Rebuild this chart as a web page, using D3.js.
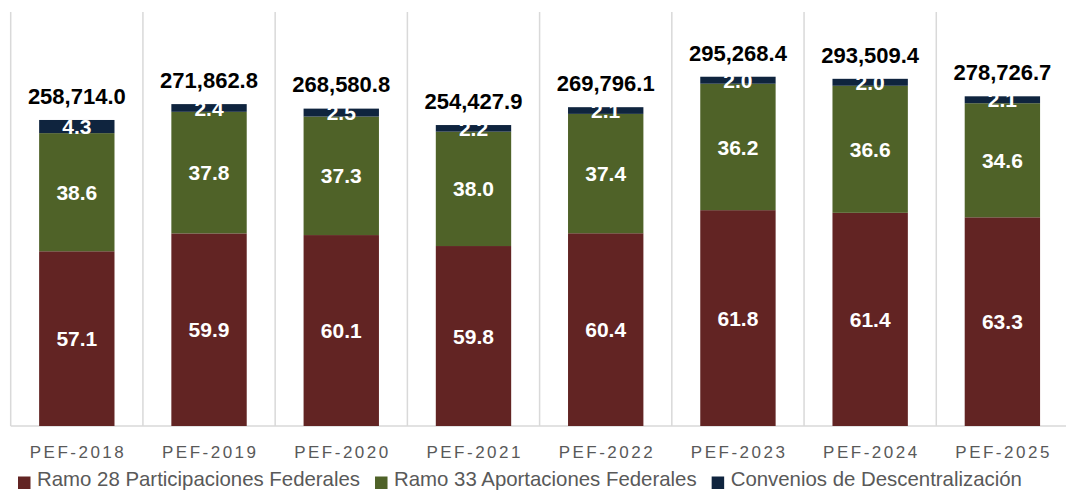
<!DOCTYPE html>
<html>
<head>
<meta charset="utf-8">
<script src="https://cdn.jsdelivr.net/npm/d3@7"></script>
<style>
  body { margin: 0; background: #fff; }
  text { font-family: "Liberation Sans", Arial, sans-serif; }
</style>
</head>
<body>
<script>
var w = 1066;
var h = 493;

var years = ["PEF-2018", "PEF-2019", "PEF-2020", "PEF-2021", "PEF-2022", "PEF-2023", "PEF-2024", "PEF-2025"];
var totals = [258714.0, 271862.8, 268580.8, 254427.9, 269796.1, 295268.4, 293509.4, 278726.7];
var ramo28 = [57.1, 59.9, 60.1, 59.8, 60.4, 61.8, 61.4, 63.3];
var ramo33 = [38.6, 37.8, 37.3, 38.0, 37.4, 36.2, 36.6, 34.6];
var convenios = [4.3, 2.4, 2.5, 2.2, 2.1, 2.0, 2.0, 2.1];
var seriesNames = ["Ramo 28 Participaciones Federales", "Ramo 33 Aportaciones Federales", "Convenios de Descentralización"];
var colors = ["#622423", "#4f6228", "#0f243e"];

var svg = d3.select("body")
    .append("svg")
    .attr("width", w)
    .attr("height", h);

var plotTop = 12, base = 426;

var xScale = d3.scaleBand()
    .domain(years)
    .range([10.7, 1068.5])
    .paddingInner(0.43)
    .paddingOuter(0.215);

var yScale = d3.scaleLinear()
    .domain([0, 350000])
    .range([base, plotTop]);

// table for stacking: amount of each part = total * pct / 100
var table = years.map(function(y, i) {
    return {
        year: y,
        r28: totals[i] * ramo28[i] / 100,
        r33: totals[i] * ramo33[i] / 100,
        conv: totals[i] * convenios[i] / 100,
        pcts: [ramo28[i], ramo33[i], convenios[i]]
    };
});

var stack = d3.stack().keys(["r28", "r33", "conv"]);
var layers = stack(table);

//gridlines between categories
var step = xScale.step();
var off = (step - xScale.bandwidth()) / 2;
var bounds = years.map(d => xScale(d) - off);
bounds.push(xScale(years[years.length - 1]) + xScale.bandwidth() + off);

svg.append("g")
    .selectAll("line")
    .data(bounds)
    .enter()
    .append("line")
    .attr("x1", d => d)
    .attr("x2", d => d)
    .attr("y1", plotTop)
    .attr("y2", base)
    .attr("stroke", "#d9d9d9")
    .attr("stroke-width", 1.5);

svg.append("line")
    .attr("x1", bounds[0])
    .attr("x2", w)
    .attr("y1", base)
    .attr("y2", base)
    .attr("stroke", "#d9d9d9")
    .attr("stroke-width", 1.5);

//bars
var g = svg.append("g");
layers.forEach(function(layer, k) {
    g.append("g")
        .attr("fill", colors[k])
        .selectAll("rect")
        .data(layer)
        .enter()
        .append("rect")
        .attr("x", d => xScale(d.data.year))
        .attr("width", xScale.bandwidth())
        .attr("y", d => yScale(d[1]))
        .attr("height", d => yScale(d[0]) - yScale(d[1]));
});

//segment labels
layers.forEach(function(layer, k) {
    g.append("g")
        .selectAll("text")
        .data(layer)
        .enter()
        .append("text")
        .attr("x", d => xScale(d.data.year) + xScale.bandwidth() / 2)
        .attr("y", d => (yScale(d[0]) + yScale(d[1])) / 2)
        .attr("dy", "0.36em")
        .attr("text-anchor", "middle")
        .attr("fill", "#fff")
        .attr("font-weight", "bold")
        .attr("font-size", "21px")
        .text(d => d.data.pcts[k].toFixed(1));
});

//totals
g.append("g")
    .selectAll("text")
    .data(years)
    .enter()
    .append("text")
    .attr("x", d => xScale(d) + xScale.bandwidth() / 2)
    .attr("y", (d, i) => yScale(totals[i]) - 16)
    .attr("text-anchor", "middle")
    .attr("fill", "#000")
    .attr("font-weight", "bold")
    .attr("font-size", "22px")
    .text((d, i) => d3.format(",.1f")(totals[i]));

//category labels
svg.append("g")
    .selectAll("text")
    .data(years)
    .enter()
    .append("text")
    .attr("x", d => xScale(d) + xScale.bandwidth() / 2 + 1.2)
    .attr("y", 458)
    .attr("text-anchor", "middle")
    .attr("fill", "#595959")
    .attr("font-size", "17px")
    .attr("letter-spacing", "2.5px")
    .text(d => d);

//legend
var lg = svg.append("g").attr("transform", "translate(0,486)");
var lx = 18;
seriesNames.forEach(function(name, k) {
    lg.append("rect")
        .attr("x", lx)
        .attr("y", -9.5)
        .attr("width", 12.5)
        .attr("height", 12.5)
        .attr("fill", colors[k]);
    var t = lg.append("text")
        .attr("x", lx + 19)
        .attr("y", 0)
        .attr("fill", "#595959")
        .attr("font-size", "20.4px")
        .text(name);
    lx += 19 + t.node().getComputedTextLength() + 15;
});
</script>
</body>
</html>
